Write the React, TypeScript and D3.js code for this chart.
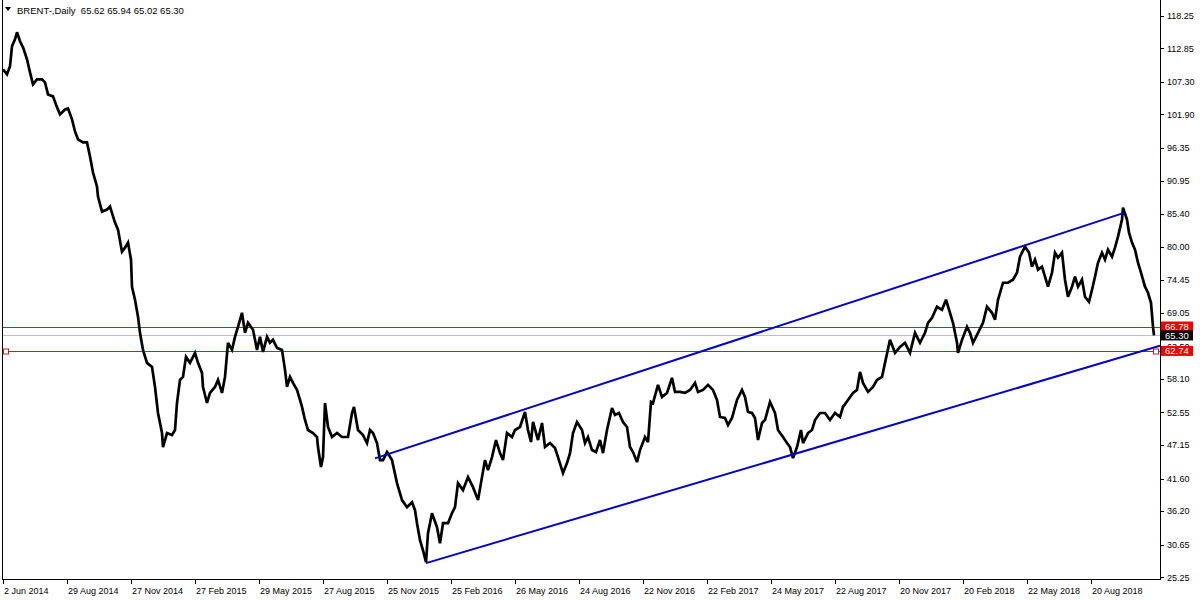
import React from "react";
import * as d3 from "d3";

// ---- data (bar index, close) ----
const BAR_INDEX = [
  0, 4, 7, 9, 12, 14, 17, 20, 24, 27, 30, 34, 39, 42, 45, 50, 54, 57, 62, 65, 69, 72, 75, 80, 84, 87, 90, 94, 95, 99,
  104, 107, 112, 115, 119, 122, 125, 128, 129, 132, 135, 137, 140, 144, 149, 152, 155, 159, 160, 164, 169, 172, 174,
  177, 180, 183, 187, 192, 195, 199, 200, 204, 207, 212, 215, 219, 222, 225, 229, 232, 235, 239, 242, 245, 250, 254,
  257, 260, 264, 267, 270, 274, 279, 282, 284, 287, 290, 294, 297, 299, 302, 305, 310, 314, 315, 318, 320, 322, 325,
  329, 334, 339, 345, 349, 351, 355, 360, 364, 367, 370, 374, 377, 380, 384, 389, 394, 399, 404, 409, 412, 414, 417,
  420, 423, 425, 429, 434, 437, 440, 445, 449, 452, 455, 460, 465, 470, 475, 479, 482, 485, 489, 493, 497, 500, 504,
  509, 512, 517, 522, 525, 528, 530, 535, 539, 542, 547, 552, 555, 560, 564, 567, 570, 574, 579, 582, 585, 589, 593,
  597, 600, 604, 609, 612, 616, 620, 624, 627, 630, 634, 637, 642, 645, 648, 650, 655, 659, 664, 669, 672, 677, 682,
  687, 692, 695, 700, 705, 710, 714, 717, 722, 725, 729, 734, 739, 742, 745, 749, 752, 755, 759, 762, 767, 772, 775,
  780, 784, 787, 790, 794, 798, 800, 805, 809, 812, 817, 822, 827, 832, 837, 840, 845, 850, 854, 857, 860, 865, 870,
  874, 879, 882, 887, 892, 897, 902, 907, 912, 917, 922, 925, 929, 934, 939, 943, 947, 950, 954, 955, 959, 964, 967,
  970, 975, 980, 984, 989, 992, 995, 1000, 1005, 1010, 1014, 1017, 1022, 1026, 1029, 1032, 1035, 1039, 1042, 1045,
  1049, 1052, 1055, 1059, 1062, 1065, 1069, 1072, 1075, 1079, 1082, 1086, 1089, 1092, 1095, 1099, 1102, 1105, 1109,
  1112, 1115, 1119, 1120, 1124, 1126, 1129, 1132, 1135, 1138, 1142, 1145, 1148, 1150, 1151,
];
const CLOSE = [
  109.37, 108.54, 109.87, 113.19, 114.35, 115.51, 114.02, 113.02, 111.03, 108.87, 106.88, 107.71, 107.71, 107.21,
  105.22, 104.89, 103.07, 101.91, 102.73, 102.9, 101.08, 99.08, 97.76, 97.26, 97.26, 94.94, 92.28, 89.96, 88.3, 85.81,
  86.14, 86.64, 83.99, 82.82, 79.17, 79.84, 80.67, 77.85, 73.37, 71.21, 68.39, 65.73, 62.91, 60.76, 60.09, 56.77,
  52.46, 49.14, 46.82, 49.14, 48.81, 49.64, 54.12, 57.94, 58.43, 61.75, 60.76, 62.42, 60.76, 59.1, 56.77, 54.12, 55.78,
  56.77, 57.94, 55.78, 58.43, 64.08, 62.91, 65.07, 66.73, 69.05, 65.73, 67.39, 66.23, 62.91, 65.07, 62.58, 65.07,
  64.08, 64.57, 63.25, 62.91, 59.6, 56.77, 58.43, 57.44, 56.28, 54.62, 53.46, 51.3, 49.64, 49.14, 48.48, 46.82, 43.5,
  45.16, 54.12, 50.14, 48.48, 49.14, 48.48, 48.48, 52.46, 53.46, 49.64, 48.81, 47.48, 49.64, 49.14, 47.48, 44.66,
  44.66, 45.99, 44.66, 40.85, 38.03, 36.86, 37.69, 36.37, 34.21, 31.39, 29.73, 27.74, 32.55, 35.87, 33.55, 30.89,
  34.21, 34.21, 35.87, 36.86, 40.85, 39.69, 41.84, 40.18, 38.03, 41.84, 44.66, 43.0, 45.16, 47.98, 45.82, 44.66, 49.14,
  48.48, 49.64, 50.14, 52.63, 49.64, 47.65, 50.97, 47.98, 50.8, 46.82, 47.48, 46.65, 45.16, 42.51, 44.16, 45.82, 49.14,
  50.97, 49.64, 47.48, 48.48, 46.32, 45.99, 47.98, 45.82, 49.64, 53.29, 52.13, 52.46, 50.97, 50.14, 46.82, 45.99,
  44.33, 46.32, 48.48, 47.65, 54.29, 54.12, 57.11, 55.12, 55.78, 58.27, 55.95, 55.95, 55.78, 56.28, 57.44, 55.95,
  56.28, 57.11, 56.28, 54.62, 51.8, 51.63, 50.47, 51.63, 54.62, 56.28, 55.12, 52.63, 52.46, 51.63, 47.98, 50.8, 51.3,
  54.29, 52.46, 49.64, 48.48, 47.48, 46.82, 44.99, 46.82, 49.64, 47.48, 49.14, 49.64, 51.3, 52.46, 52.46, 51.3, 52.46,
  51.8, 53.46, 54.62, 55.78, 56.28, 59.26, 57.44, 55.95, 56.77, 57.94, 58.43, 60.76, 64.57, 62.42, 63.41, 64.08, 62.42,
  65.73, 64.08, 65.73, 67.39, 68.22, 70.05, 69.55, 71.21, 69.05, 67.39, 64.08, 62.42, 64.57, 66.73, 65.73, 64.08,
  65.73, 67.39, 70.05, 69.05, 67.89, 71.21, 74.03, 74.03, 74.53, 75.69, 78.34, 80.0, 79.01, 76.69, 77.85, 76.19, 76.69,
  75.03, 73.37, 75.69, 79.01, 78.18, 79.01, 74.53, 71.71, 73.37, 75.03, 73.37, 74.53, 71.71, 70.88, 72.87, 75.03,
  77.35, 79.01, 77.85, 79.51, 78.34, 79.84, 81.66, 84.48, 86.47, 84.48, 82.33, 80.67, 79.51, 77.35, 75.69, 73.37,
  72.37, 70.71, 66.73, 65.3,
];

const PRICE_TICKS = [
  118.25, 112.85, 107.3, 101.9, 96.35, 90.95, 85.4, 80.0, 74.45, 69.05, 63.5, 58.1, 52.55, 47.15, 41.6, 36.2, 30.65, 25.25,
];
const DATE_LABELS = [
  "2 Jun 2014", "29 Aug 2014", "27 Nov 2014", "27 Feb 2015", "29 May 2015", "27 Aug 2015", "25 Nov 2015",
  "25 Feb 2016", "26 May 2016", "24 Aug 2016", "22 Nov 2016", "22 Feb 2017", "24 May 2017", "22 Aug 2017",
  "20 Nov 2017", "20 Feb 2018", "22 May 2018", "20 Aug 2018",
];
const DATE_TICK_INDEX = [0, 64, 128, 192, 256, 320, 384, 448, 512, 576, 640, 704, 768, 832, 896, 960, 1024, 1088];

const SYMBOL = "BRENT-,Daily";
const HEADER_OHLC = [65.62, 65.94, 65.02, 65.3];

// trendlines: [barIndex, price]
const UPPER_TREND = [[372, 44.95], [1121, 85.6]];
const LOWER_TREND = [[423, 27.6], [1157, 63.6]];

const RED_LEVELS = [66.78, 62.74];
const BID_LEVEL = 65.3;

const W = 1200;
const H = 600;
const PLOT_L = 2;
const PLOT_R = 1160;
const PLOT_B = 579;
const FONT = "'Liberation Sans', Arial, sans-serif";
const RED_LINE = "#d81818";
const RED_BOX = "#f00000";
const BOX_H = 10;

export default function App() {
  const x = d3.scaleLinear().domain([0, 1157]).range([3, PLOT_R]);
  const y = d3.scaleLinear().domain([25.25, 118.25]).range([577.3, 15.7]);

  const pts = BAR_INDEX.map((b, i) => [b, CLOSE[i]] as [number, number]);
  const line = d3
    .line<[number, number]>()
    .x((d) => x(d[0]))
    .y((d) => y(d[1]));

  const trend = d3
    .line<number[]>()
    .x((d) => x(d[0]))
    .y((d) => y(d[1]));

  const fmt = d3.format(".2f");

  return (
    <svg
      width={W}
      height={H}
      style={{ position: "absolute", left: 0, top: 0, background: "#fff" }}
      fontFamily={FONT}
    >
      <rect x={0} y={0} width={W} height={H} fill="#fff" />
      <defs>
        <clipPath id="plot">
          <rect x={PLOT_L} y={0} width={PLOT_R - PLOT_L} height={PLOT_B} />
        </clipPath>
      </defs>

      <g clipPath="url(#plot)">
        {/* bid line */}
        <line x1={PLOT_L} x2={PLOT_R} y1={Math.round(y(BID_LEVEL)) + 0.5} y2={Math.round(y(BID_LEVEL)) + 0.5} stroke="#c0c0c0" strokeWidth={1} />
        {/* red horizontal levels */}
        {RED_LEVELS.map((v) => (
          <line key={v} x1={PLOT_L} x2={PLOT_R} y1={Math.round(y(v)) + 0.5} y2={Math.round(y(v)) + 0.5} stroke={RED_LINE} strokeWidth={1} />
        ))}
        {/* price */}
        <path d={line(pts) || ""} fill="none" stroke="#000" strokeWidth={2.7} strokeLinejoin="miter" strokeMiterlimit={3} />
        {/* trendlines */}
        <path d={trend(UPPER_TREND) || ""} fill="none" stroke="#0000c8" strokeWidth={2} />
        <path d={trend(LOWER_TREND) || ""} fill="none" stroke="#0000c8" strokeWidth={2} />
        {/* selection squares on 62.74 line */}
        <rect x={3.5} y={Math.round(y(62.74)) - 2} width={5} height={5} fill="#fff" stroke={RED_LINE} />
        <rect x={PLOT_R - 6.5} y={Math.round(y(62.74)) - 2} width={5} height={5} fill="#fff" stroke={RED_LINE} />
      </g>

      {/* frame */}
      <line x1={PLOT_L + 0.5} x2={PLOT_L + 0.5} y1={0} y2={PLOT_B} stroke="#000" />
      <line x1={PLOT_R + 0.5} x2={PLOT_R + 0.5} y1={0} y2={PLOT_B + 0.5} stroke="#000" />
      <line x1={PLOT_L} x2={PLOT_R + 1} y1={PLOT_B + 0.5} y2={PLOT_B + 0.5} stroke="#000" />

      {/* price axis */}
      {PRICE_TICKS.map((t) => (
        <g key={t}>
          <line x1={PLOT_R} x2={PLOT_R + 4} y1={Math.round(y(t)) + 0.5} y2={Math.round(y(t)) + 0.5} stroke="#000" />
          <text x={PLOT_R + 7} y={y(t) + 3.3} fontSize={9} fill="#000">
            {fmt(t)}
          </text>
        </g>
      ))}

      {/* level labels */}
      {RED_LEVELS.map((v) => (
        <g key={"l" + v}>
          <rect x={PLOT_R + 1} y={y(v) - BOX_H / 2} width={32} height={BOX_H} fill={RED_BOX} />
          <text x={PLOT_R + 5} y={y(v) + 3.4} fontSize={9.5} fill="#fff">
            {fmt(v)}
          </text>
        </g>
      ))}
      <rect x={PLOT_R + 1} y={y(BID_LEVEL) - BOX_H / 2} width={32} height={BOX_H} fill="#000" />
      <text x={PLOT_R + 5} y={y(BID_LEVEL) + 3.4} fontSize={9.5} fill="#fff">
        {fmt(BID_LEVEL)}
      </text>

      {/* date axis */}
      {DATE_TICK_INDEX.map((b, i) => (
        <g key={b}>
          <line x1={Math.round(x(b)) + 0.5} x2={Math.round(x(b)) + 0.5} y1={PLOT_B} y2={PLOT_B + 5} stroke="#000" />
          <text x={x(b) + 1} y={594} fontSize={9} fill="#000">
            {DATE_LABELS[i]}
          </text>
        </g>
      ))}

      {/* header */}
      <path d="M5,7 L11,7 L8,11 Z" fill="#000" />
      <text x={17} y={14} fontSize={9.5} fill="#000" xmlSpace="preserve">
        {SYMBOL + "  " + HEADER_OHLC.map(fmt).join(" ")}
      </text>
    </svg>
  );
}
